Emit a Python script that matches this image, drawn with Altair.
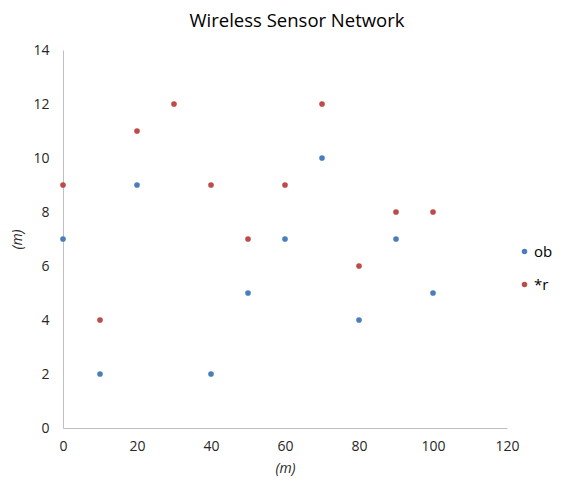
import altair as alt
import pandas as pd

series_names = ["ob", "*r"]
blue_x = [0, 10, 20, 40, 50, 60, 70, 80, 90, 100]
blue_y = [7, 2, 9, 2, 5, 7, 10, 4, 7, 5]
red_x = [0, 10, 20, 30, 40, 50, 60, 70, 80, 90, 100]
red_y = [9, 4, 11, 12, 9, 7, 9, 12, 6, 8, 8]
colors = ["#4A7EBB", "#BE4B48"]

df = pd.DataFrame(
    [{"x": x, "y": y, "s": series_names[0]} for x, y in zip(blue_x, blue_y)]
    + [{"x": x, "y": y, "s": series_names[1]} for x, y in zip(red_x, red_y)]
)

FONT = "Open Sans"

chart = alt.Chart(df).mark_circle(size=32, opacity=1).encode(
    x=alt.X("x:Q", scale=alt.Scale(domain=[0, 120], nice=False),
            axis=alt.Axis(values=[0, 20, 40, 60, 80, 100, 120], title="(m)",
                          titleFontStyle="italic", grid=False, ticks=False,
                          labelFlush=False, labelPadding=11, titlePadding=8)),
    y=alt.Y("y:Q", scale=alt.Scale(domain=[0, 14], nice=False),
            axis=alt.Axis(values=[0, 2, 4, 6, 8, 10, 12, 14], title="(m)",
                          titleFontStyle="italic", grid=False, ticks=False,
                          labelFlush=False, labelPadding=14, titlePadding=8)),
    color=alt.Color("s:N", sort=series_names,
                    scale=alt.Scale(domain=series_names, range=colors),
                    legend=alt.Legend(title=None, orient="none", legendX=454, legendY=194,
                                      symbolSize=30, symbolType="circle",
                                      rowPadding=17, labelFontSize=15, labelFont=FONT,
                                      labelColor="#000000", labelOffset=2)),
).properties(
    width=444, height=378,
    title=alt.Title("Wireless Sensor Network", fontSize=18.5, font=FONT,
                    fontWeight="normal", color="#000000", offset=13, dx=12),
    autosize=alt.AutoSizeParams(type="none"),
    padding={"left": 55, "top": 42, "right": 60, "bottom": 50},
).configure_view(stroke=None).configure_axis(
    domainColor="#BFBFBF", labelFont=FONT, titleFont=FONT, labelFontSize=14,
    titleFontSize=14, labelColor="#262626", titleColor="#262626",
    titleFontWeight="normal"
)

chart.save("out.html", embed_options={"renderer": "svg", "actions": False})
